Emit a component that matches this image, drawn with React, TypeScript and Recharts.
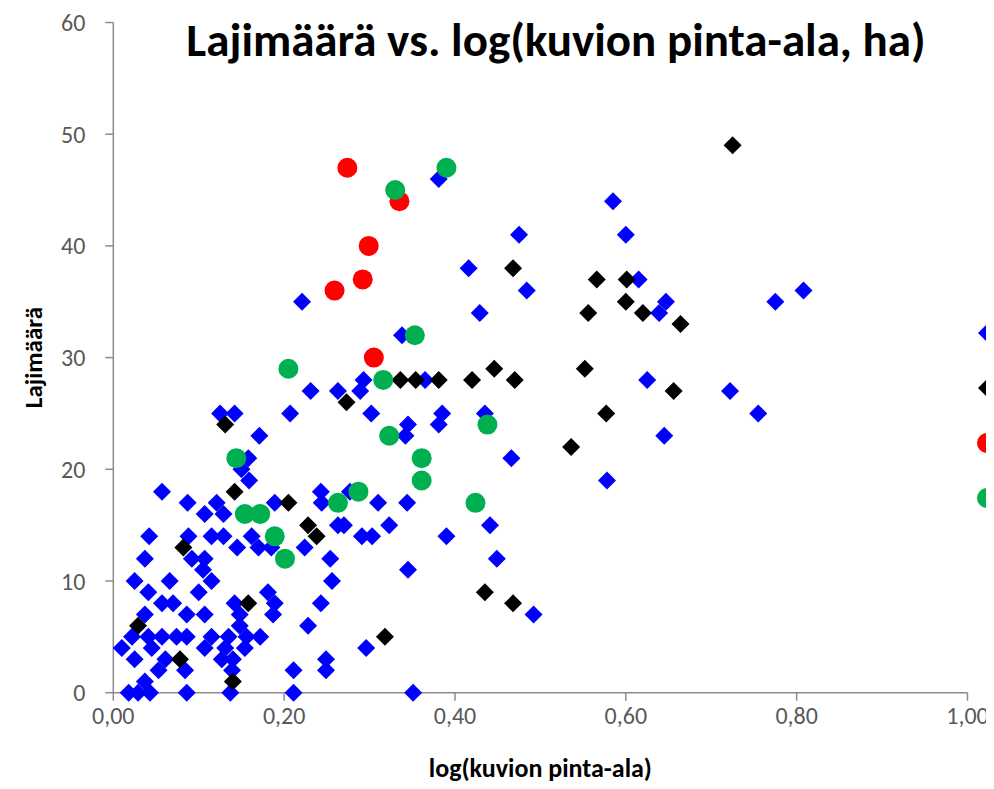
// Lajimäärä vs. log(kuvion pinta-ala) scatter, four groups
import React from "react";
import { ScatterChart, Scatter, XAxis, YAxis } from "recharts";

const xTicks = [0, 0.2, 0.4, 0.6, 0.8, 1.0];
const yTicks = [0, 10, 20, 30, 40, 50, 60];

// [log(area), species count]
const blueSeries: [number, number][] = [
  [0.381, 46], [0.475, 41], [0.416, 38], [0.484, 36], [0.221, 35], [0.429, 34], [0.338, 32],
  [0.585, 44], [0.6, 41], [0.615, 37], [0.808, 36], [0.775, 35], [0.647, 35], [0.639, 34], [0.625, 28],
  [0.722, 27], [0.755, 25], [0.645, 23], [0.578, 19],
  [0.293, 28], [0.365, 28], [0.231, 27], [0.263, 27], [0.289, 27], [0.207, 25], [0.302, 25],
  [0.345, 24], [0.342, 23], [0.385, 25], [0.381, 24], [0.435, 25], [0.466, 21], [0.243, 18],
  [0.277, 18], [0.244, 17], [0.31, 17], [0.344, 17], [0.263, 15], [0.27, 15], [0.323, 15], [0.441, 15],
  [0.291, 14], [0.303, 14], [0.39, 14], [0.224, 13], [0.254, 12], [0.449, 12], [0.345, 11],
  [0.256, 10], [0.492, 7], [0.243, 8], [0.228, 6], [0.296, 4], [0.249, 3], [0.249, 2],
  [0.211, 2], [0.351, 0], [0.211, 0],
  [0.125, 25], [0.142, 25], [0.171, 23], [0.158, 21], [0.15, 20], [0.159, 19], [0.057, 18],
  [0.087, 17], [0.121, 17], [0.107, 16], [0.129, 16], [0.189, 17],
  [0.042, 14], [0.088, 14], [0.115, 14], [0.129, 14], [0.145, 13], [0.162, 14], [0.17, 13],
  [0.185, 13], [0.037, 12], [0.092, 12], [0.107, 12], [0.105, 11], [0.115, 10], [0.025, 10],
  [0.066, 10], [0.041, 9], [0.1, 9], [0.057, 8], [0.07, 8], [0.142, 8], [0.181, 9], [0.189, 8],
  [0.187, 7], [0.037, 7], [0.086, 7], [0.107, 7], [0.148, 7], [0.022, 5], [0.041, 5], [0.057, 5],
  [0.074, 5], [0.086, 5], [0.115, 5], [0.135, 5], [0.148, 6], [0.156, 5], [0.172, 5], [0.01, 4],
  [0.045, 4], [0.107, 4], [0.131, 4], [0.154, 4], [0.025, 3], [0.061, 3], [0.127, 3], [0.14, 3],
  [0.053, 2], [0.084, 2], [0.139, 2], [0.037, 1], [0.018, 0], [0.029, 0], [0.043, 0], [0.086, 0],
  [0.137, 0],
];

const blackSeries: [number, number][] = [
  [0.725, 49], [0.468, 38], [0.566, 37], [0.601, 37], [0.6, 35], [0.556, 34], [0.62, 34],
  [0.664, 33], [0.552, 29], [0.446, 29], [0.656, 27], [0.577, 25], [0.536, 22], [0.336, 28],
  [0.354, 28], [0.381, 28], [0.42, 28], [0.47, 28], [0.273, 26], [0.131, 24], [0.142, 18],
  [0.205, 17], [0.228, 15], [0.238, 14], [0.082, 13], [0.435, 9], [0.468, 8], [0.158, 8],
  [0.318, 5], [0.029, 6], [0.078, 3], [0.14, 1],
];

const redSeries: [number, number][] = [
  [0.274, 47], [0.335, 44], [0.299, 40], [0.292, 37], [0.259, 36], [0.305, 30],
];

const greenSeries: [number, number][] = [
  [0.39, 47], [0.33, 45], [0.353, 32], [0.205, 29], [0.316, 28], [0.438, 24], [0.323, 23],
  [0.361, 21], [0.361, 19], [0.424, 17], [0.287, 18], [0.263, 17], [0.144, 21], [0.154, 16],
  [0.172, 16], [0.189, 14], [0.201, 12],
];

const toPoints = (s: [number, number][]) => s.map(([x, y]) => ({ x, y }));

const BLUE = "#0000ff";
const BLACK = "#000000";
const RED = "#ff0000";
const GREEN = "#00b050";
const FONT = "Carlito, Calibri, Lato, sans-serif";

const diamond = (color: string) => (props: any) => {
  const { cx, cy } = props;
  const r = 9;
  return (
    <polygon
      points={`${cx},${cy - r} ${cx + r},${cy} ${cx},${cy + r} ${cx - r},${cy}`}
      fill={color}
    />
  );
};

const circle = (color: string) => (props: any) => {
  const { cx, cy } = props;
  return <circle cx={cx} cy={cy} r={10} fill={color} />;
};

const legendItems = [
  { color: BLUE, kind: "diamond" },
  { color: BLACK, kind: "diamond" },
  { color: RED, kind: "circle" },
  { color: GREEN, kind: "circle" },
];

const fmt = (v: number) => v.toFixed(2).replace(".", ",");

export default function App() {
  return (
    <div
      style={{
        position: "relative",
        width: 994,
        height: 789,
        margin: -8,
        overflow: "hidden",
        background: "#fff",
        fontFamily: FONT,
      }}
    >
      <ScatterChart
        width={994}
        height={789}
        margin={{ top: 22.5, right: 26.5, bottom: 6.3, left: 0 }}
      >
        <XAxis
          type="number"
          dataKey="x"
          domain={[0, 1]}
          ticks={xTicks}
          tickFormatter={fmt}
          height={90}
          stroke="#8c8c8c"
          strokeWidth={1.5}
          tickSize={8}
          tickMargin={6}
          tick={{ fill: "#595959", fontSize: 24, fontFamily: FONT }}
          label={{
            value: "log(kuvion pinta-ala)",
            position: "insideBottom",
            offset: 6,
            style: { fill: "#000", fontSize: 26, fontWeight: 700, fontFamily: FONT },
          }}
        />
        <YAxis
          type="number"
          dataKey="y"
          domain={[0, 60]}
          ticks={yTicks}
          width={113.3}
          stroke="#8c8c8c"
          strokeWidth={1.5}
          tickSize={8}
          tickMargin={20}
          tick={{ fill: "#595959", fontSize: 24, fontFamily: FONT }}
          label={{
            value: "Lajimäärä",
            angle: -90,
            position: "insideLeft",
            offset: 33,
            style: { textAnchor: "middle", fill: "#000", fontSize: 25, fontWeight: 700, fontFamily: FONT },
          }}
        />
        <Scatter data={toPoints(blueSeries)} fill={BLUE} shape={diamond(BLUE)} isAnimationActive={false} />
        <Scatter data={toPoints(blackSeries)} fill={BLACK} shape={diamond(BLACK)} isAnimationActive={false} />
        <Scatter data={toPoints(redSeries)} fill={RED} shape={circle(RED)} isAnimationActive={false} />
        <Scatter data={toPoints(greenSeries)} fill={GREEN} shape={circle(GREEN)} isAnimationActive={false} />
      </ScatterChart>

      <div
        style={{
          position: "absolute",
          left: 106,
          top: 11,
          width: 900,
          textAlign: "center",
          fontSize: 47,
          fontWeight: 700,
          lineHeight: "58px",
          color: "#000",
        }}
      >
        Lajimäärä vs. log(kuvion pinta-ala, ha)
      </div>

      <div style={{ position: "absolute", left: 975, top: 321 }}>
        {legendItems.map((item, i) => (
          <svg key={i} width={24} height={24} style={{ display: "block", marginBottom: 31 }}>
            {item.kind === "diamond" ? (
              <polygon points="12,3 21,12 12,21 3,12" fill={item.color} />
            ) : (
              <circle cx={12} cy={12} r={10} fill={item.color} />
            )}
          </svg>
        ))}
      </div>
    </div>
  );
}
